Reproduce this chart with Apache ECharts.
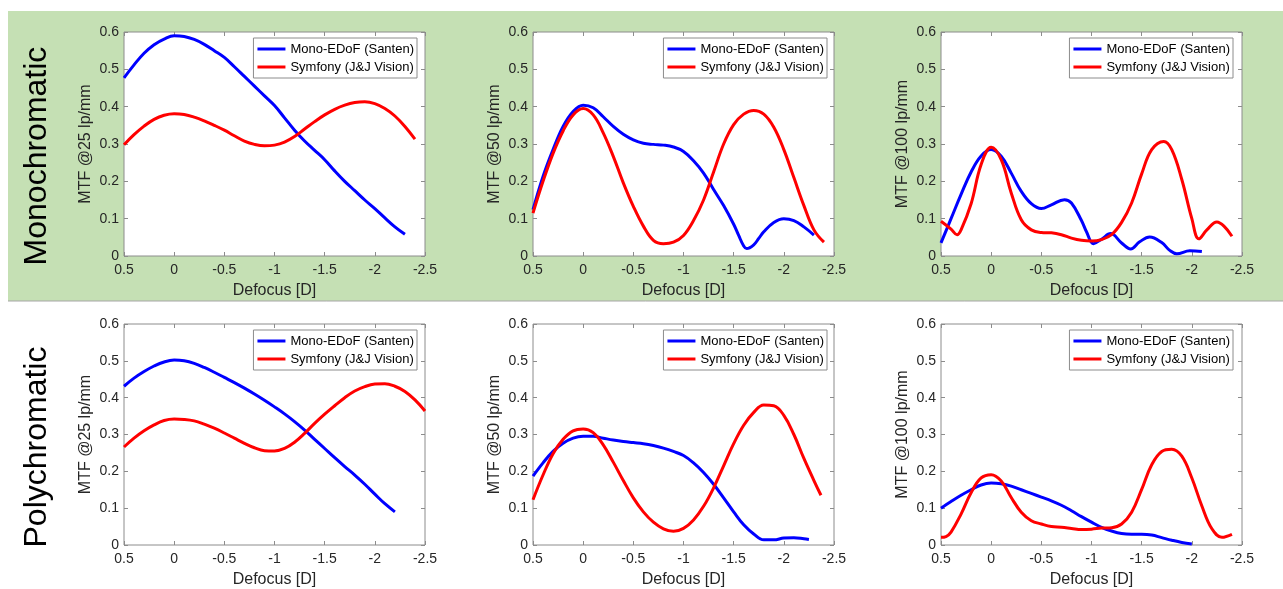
<!DOCTYPE html>
<html>
<head>
<meta charset="utf-8">
<script src="https://cdn.jsdelivr.net/npm/echarts@6/dist/echarts.min.js"></script>
<style>
html,body{margin:0;padding:0;background:#fff;}
#chart{width:1283px;height:589px;}
</style>
</head>
<body>
<div id="chart"></div>
<script>
// ---------- data (defocus in D, MTF values) ----------
var seriesNames = ['Mono-EDoF (Santen)', 'Symfony (J&J Vision)'];
var yAxisTitles = ['MTF @25 lp/mm', 'MTF @50 lp/mm', 'MTF @100 lp/mm'];
var rowTitles = ['Monochromatic', 'Polychromatic'];

// Monochromatic, 25 lp/mm
var mono25SantenD = [0.5,0.4,0.3,0.2,0.1,0,-0.1,-0.2,-0.3,-0.4,-0.5,-0.6,-0.7,-0.8,-0.9,-1.0,-1.1,-1.2,-1.3,-1.4,-1.5,-1.6,-1.7,-1.8,-1.9,-2.0,-2.1,-2.2,-2.3];
var mono25SantenV = [0.477,0.512,0.543,0.566,0.581,0.59,0.588,0.58,0.567,0.55,0.532,0.507,0.481,0.455,0.429,0.403,0.37,0.337,0.308,0.283,0.258,0.228,0.2,0.175,0.15,0.127,0.102,0.078,0.058];
var mono25SymfonyD = [0.5,0.4,0.3,0.2,0.1,0,-0.1,-0.2,-0.3,-0.4,-0.5,-0.6,-0.7,-0.8,-0.9,-1.0,-1.1,-1.2,-1.3,-1.4,-1.5,-1.6,-1.7,-1.8,-1.9,-2.0,-2.1,-2.2,-2.3,-2.4];
var mono25SymfonyV = [0.298,0.325,0.348,0.366,0.377,0.381,0.379,0.372,0.362,0.35,0.337,0.322,0.308,0.299,0.295,0.297,0.305,0.32,0.34,0.36,0.378,0.393,0.404,0.411,0.413,0.408,0.395,0.375,0.347,0.313];

// Monochromatic, 50 lp/mm
var mono50SantenD = [0.5,0.4,0.3,0.2,0.1,0,-0.1,-0.2,-0.3,-0.4,-0.5,-0.6,-0.7,-0.8,-0.9,-1.0,-1.1,-1.2,-1.3,-1.4,-1.5,-1.55,-1.6,-1.63,-1.7,-1.75,-1.8,-1.9,-2.0,-2.1,-2.2,-2.3];
var mono50SantenV = [0.124,0.213,0.285,0.347,0.387,0.404,0.397,0.373,0.347,0.326,0.311,0.302,0.299,0.297,0.292,0.28,0.255,0.222,0.178,0.135,0.085,0.055,0.027,0.02,0.03,0.047,0.065,0.09,0.1,0.095,0.078,0.056];
var mono50SymfonyD = [0.5,0.4,0.3,0.2,0.1,0,-0.1,-0.2,-0.3,-0.4,-0.5,-0.6,-0.7,-0.8,-0.9,-1.0,-1.1,-1.2,-1.3,-1.4,-1.5,-1.6,-1.7,-1.8,-1.9,-2.0,-2.1,-2.2,-2.3,-2.4];
var mono50SymfonyV = [0.115,0.2,0.275,0.335,0.378,0.395,0.378,0.33,0.267,0.196,0.133,0.08,0.042,0.033,0.037,0.055,0.095,0.15,0.225,0.3,0.352,0.38,0.39,0.38,0.345,0.285,0.21,0.135,0.07,0.037];

// Monochromatic, 100 lp/mm
var mono100SantenD = [0.5,0.4,0.3,0.2,0.1,0,-0.1,-0.2,-0.3,-0.4,-0.5,-0.6,-0.73,-0.8,-0.9,-0.95,-1.02,-1.1,-1.19,-1.3,-1.39,-1.48,-1.58,-1.7,-1.78,-1.85,-1.98,-2.1];
var mono100SantenV = [0.035,0.1,0.165,0.225,0.268,0.285,0.267,0.222,0.173,0.14,0.127,0.137,0.151,0.142,0.095,0.065,0.033,0.045,0.06,0.035,0.019,0.038,0.051,0.036,0.015,0.006,0.014,0.012];
var mono100SymfonyD = [0.5,0.4,0.34,0.3,0.2,0.1,0,-0.1,-0.2,-0.3,-0.4,-0.5,-0.6,-0.7,-0.8,-0.9,-1.0,-1.1,-1.2,-1.3,-1.4,-1.5,-1.6,-1.72,-1.8,-1.9,-2.0,-2.07,-2.15,-2.25,-2.32,-2.4];
var mono100SymfonyV = [0.093,0.072,0.057,0.07,0.14,0.245,0.291,0.258,0.169,0.097,0.07,0.063,0.062,0.057,0.048,0.042,0.04,0.044,0.057,0.09,0.142,0.22,0.285,0.307,0.285,0.205,0.1,0.046,0.07,0.091,0.08,0.053];

// Polychromatic, 25 lp/mm
var poly25SantenD = [0.5,0.4,0.3,0.2,0.1,0,-0.1,-0.2,-0.3,-0.4,-0.5,-0.6,-0.7,-0.8,-0.9,-1.0,-1.1,-1.2,-1.3,-1.4,-1.5,-1.6,-1.7,-1.8,-1.9,-2.0,-2.1,-2.2];
var poly25SantenV = [0.431,0.453,0.471,0.486,0.497,0.502,0.5,0.493,0.482,0.469,0.455,0.441,0.426,0.41,0.393,0.375,0.356,0.335,0.312,0.287,0.262,0.237,0.213,0.19,0.165,0.138,0.112,0.09];
var poly25SymfonyD = [0.5,0.4,0.3,0.2,0.1,0,-0.1,-0.2,-0.3,-0.4,-0.5,-0.6,-0.7,-0.8,-0.9,-1.0,-1.1,-1.2,-1.3,-1.4,-1.5,-1.6,-1.7,-1.8,-1.9,-2.0,-2.1,-2.2,-2.3,-2.4,-2.5];
var poly25SymfonyV = [0.266,0.29,0.31,0.326,0.338,0.342,0.341,0.337,0.328,0.317,0.304,0.29,0.276,0.264,0.256,0.255,0.262,0.279,0.303,0.33,0.355,0.378,0.4,0.418,0.43,0.437,0.438,0.431,0.417,0.394,0.364];

// Polychromatic, 50 lp/mm
var poly50SantenD = [0.5,0.4,0.3,0.2,0.1,0,-0.1,-0.2,-0.3,-0.4,-0.5,-0.6,-0.7,-0.8,-0.9,-1.0,-1.1,-1.2,-1.3,-1.4,-1.5,-1.6,-1.7,-1.8,-1.9,-2.0,-2.1,-2.2,-2.25];
var poly50SantenV = [0.187,0.223,0.254,0.276,0.29,0.295,0.295,0.29,0.285,0.281,0.278,0.275,0.27,0.263,0.254,0.243,0.223,0.197,0.165,0.128,0.09,0.055,0.03,0.014,0.014,0.019,0.02,0.017,0.015];
var poly50SymfonyD = [0.5,0.4,0.3,0.2,0.1,0,-0.1,-0.2,-0.3,-0.4,-0.5,-0.6,-0.7,-0.8,-0.9,-1.0,-1.1,-1.2,-1.3,-1.4,-1.5,-1.6,-1.7,-1.8,-1.9,-2.0,-2.1,-2.2,-2.3,-2.37];
var poly50SymfonyV = [0.123,0.19,0.248,0.287,0.31,0.315,0.305,0.272,0.225,0.175,0.128,0.09,0.062,0.044,0.037,0.045,0.068,0.105,0.155,0.215,0.275,0.325,0.36,0.38,0.378,0.352,0.3,0.235,0.175,0.135];

// Polychromatic, 100 lp/mm
var poly100SantenD = [0.5,0.4,0.3,0.2,0.1,0,-0.1,-0.2,-0.3,-0.4,-0.5,-0.6,-0.7,-0.8,-0.9,-1.0,-1.1,-1.2,-1.3,-1.4,-1.5,-1.6,-1.7,-1.8,-1.9,-2.0];
var poly100SantenV = [0.1,0.118,0.135,0.15,0.163,0.168,0.166,0.16,0.15,0.14,0.13,0.12,0.108,0.093,0.077,0.062,0.048,0.038,0.031,0.029,0.029,0.027,0.02,0.013,0.007,0.003];
var poly100SymfonyD = [0.5,0.45,0.4,0.3,0.2,0.1,0,-0.1,-0.2,-0.3,-0.4,-0.5,-0.6,-0.7,-0.8,-0.9,-1.0,-1.1,-1.2,-1.3,-1.4,-1.5,-1.6,-1.7,-1.8,-1.9,-2.0,-2.1,-2.2,-2.3,-2.4];
var poly100SymfonyV = [0.021,0.023,0.035,0.084,0.142,0.182,0.191,0.174,0.129,0.089,0.066,0.057,0.05,0.048,0.045,0.042,0.043,0.046,0.047,0.057,0.089,0.151,0.218,0.254,0.26,0.241,0.182,0.106,0.044,0.021,0.029];

var panelData = [
  [[mono25SantenD, mono25SantenV], [mono25SymfonyD, mono25SymfonyV]],
  [[mono50SantenD, mono50SantenV], [mono50SymfonyD, mono50SymfonyV]],
  [[mono100SantenD, mono100SantenV], [mono100SymfonyD, mono100SymfonyV]],
  [[poly25SantenD, poly25SantenV], [poly25SymfonyD, poly25SymfonyV]],
  [[poly50SantenD, poly50SantenV], [poly50SymfonyD, poly50SymfonyV]],
  [[poly100SantenD, poly100SantenV], [poly100SymfonyD, poly100SymfonyV]]
];

// ---------- layout ----------
var W = 1283;
var colLeft = [124, 533, 941];
var rowTop = [32, 324];
var plotW = 301, plotH = 224;
var legendRight = [866, 456, 50];
var legendTopOff = 6;

var FONT = 'Liberation Sans, Arial, Helvetica, sans-serif';
var TXT = '#262626';
var AX = '#8c8c8c';
var colors = ['#0000ff', '#ff0000'];

function pairs(d, v) { var o = []; for (var i = 0; i < d.length; i++) o.push([d[i], v[i]]); return o; }

var grids = [], xAxes = [], yAxes = [], series = [], legends = [];
for (var p = 0; p < 6; p++) {
  var r = Math.floor(p / 3), c = p % 3;
  grids.push({ left: colLeft[c], top: rowTop[r], width: plotW, height: plotH, show: true,
    backgroundColor: '#ffffff', borderColor: AX, borderWidth: 1, containLabel: false });
  var tick = { show: true, inside: true, length: 4, lineStyle: { color: AX, width: 1 } };
  var noLine = { show: false, onZero: false };
  xAxes.push({ type: 'value', gridIndex: p, position: 'bottom', min: -2.5, max: 0.5, interval: 0.5, inverse: true,
    axisLine: noLine, axisTick: tick, splitLine: { show: false },
    axisLabel: { color: TXT, fontSize: 14, fontFamily: FONT, margin: 7 },
    name: 'Defocus [D]', nameLocation: 'middle', nameGap: 27,
    nameTextStyle: { color: TXT, fontSize: 16, fontFamily: FONT } });
  xAxes.push({ type: 'value', gridIndex: p, position: 'top', min: -2.5, max: 0.5, interval: 0.5, inverse: true,
    axisLine: noLine, axisTick: tick, splitLine: { show: false }, axisLabel: { show: false } });
  yAxes.push({ type: 'value', gridIndex: p, position: 'left', min: 0, max: 0.6, interval: 0.1,
    axisLine: noLine, axisTick: tick, splitLine: { show: false },
    axisLabel: { color: TXT, fontSize: 14, fontFamily: FONT, margin: 5 },
    name: yAxisTitles[c], nameLocation: 'middle', nameGap: 30,
    nameTextStyle: { color: TXT, fontSize: 16, fontFamily: FONT } });
  yAxes.push({ type: 'value', gridIndex: p, position: 'right', min: 0, max: 0.6, interval: 0.1,
    axisLine: noLine, axisTick: tick, splitLine: { show: false }, axisLabel: { show: false } });
  for (var s = 0; s < 2; s++) {
    series.push({ type: 'line', name: seriesNames[s], xAxisIndex: p * 2, yAxisIndex: p * 2,
      data: pairs(panelData[p][s][0], panelData[p][s][1]),
      smooth: 0.4, symbol: 'none', showSymbol: false, animation: false,
      lineStyle: { color: colors[s], width: 3 }, itemStyle: { color: colors[s] }, z: 3 + s });
  }
  legends.push({ data: seriesNames, orient: 'vertical', right: legendRight[c], top: rowTop[r] + legendTopOff,
    backgroundColor: '#ffffff', borderColor: AX, borderWidth: 1, padding: [4, 3, 4, 4], itemGap: 4,
    icon: 'rect', itemWidth: 28, itemHeight: 3, selectedMode: false,
    textStyle: { color: '#000', fontSize: 13, fontFamily: FONT, lineHeight: 14 } });
}

var option = {
  animation: false,
  backgroundColor: '#ffffff',
  graphic: [
    { type: 'rect', z: -10, shape: { x: 8, y: 11, width: W - 8, height: 290 }, style: { fill: '#c5e0b4' } },
    { type: 'line', z: -9, shape: { x1: 8, y1: 301, x2: W, y2: 301 }, style: { stroke: '#a6a6a6', lineWidth: 1 } },
    { type: 'text', x: 37, y: 156, rotation: Math.PI / 2,
      style: { text: rowTitles[0], fontSize: 32, fontFamily: FONT, fill: '#000', textAlign: 'center', textVerticalAlign: 'middle' } },
    { type: 'text', x: 37, y: 447, rotation: Math.PI / 2,
      style: { text: rowTitles[1], fontSize: 32, fontFamily: FONT, fill: '#000', textAlign: 'center', textVerticalAlign: 'middle' } }
  ],
  grid: grids, xAxis: xAxes, yAxis: yAxes, series: series, legend: legends
};

var chart = echarts.init(document.getElementById('chart'), null, { renderer: 'canvas' });
chart.setOption(option);
</script>
</body>
</html>
